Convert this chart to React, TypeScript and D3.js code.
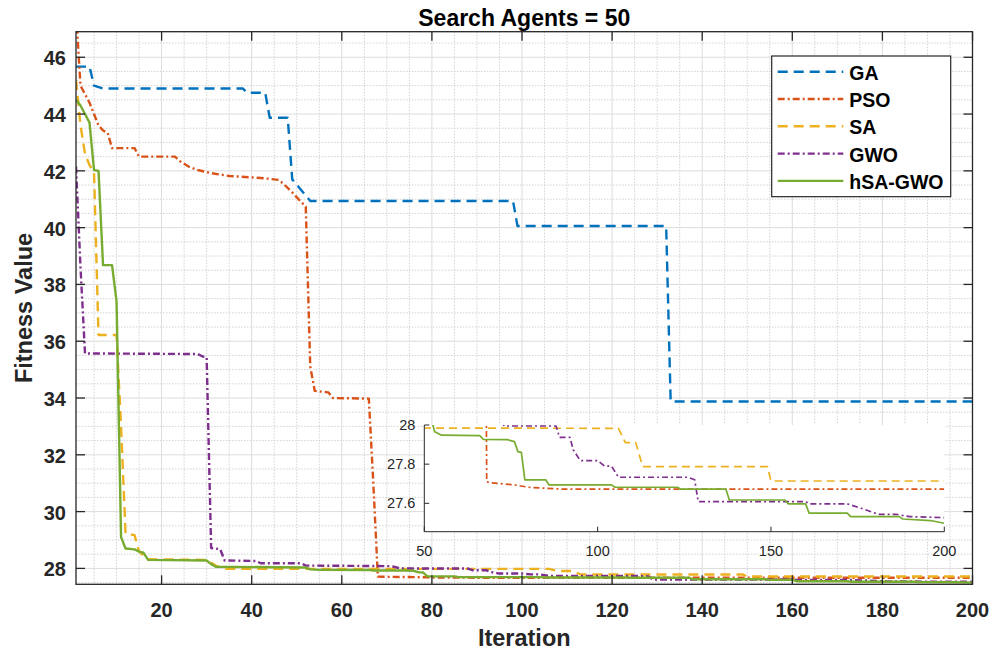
import React from 'react';
import * as d3 from 'd3';

// ---------------- data (iteration, fitness) vertices ----------------
const seriesNames = ['GA', 'PSO', 'SA', 'GWO', 'hSA-GWO'];

const gaCurve: [number, number][] = [
  [1, 45.67], [4, 45.67], [5, 45.0], [7, 44.9], [38, 44.9], [39, 44.75], [43, 44.75], [44, 43.87],
  [48, 43.87], [49, 41.7], [53, 40.94], [98, 40.94], [99, 40.06], [132, 40.06], [133, 33.88], [200, 33.88],
];

const psoCurve: [number, number][] = [
  [1, 47.6], [2, 45.0], [3, 44.7], [4, 44.4], [5, 44.0], [6, 43.6], [7, 43.42], [8, 43.35], [9, 42.8],
  [14, 42.8], [15, 42.5], [23, 42.5], [24, 42.35], [26, 42.15], [28, 42.03], [31, 41.92], [35, 41.82],
  [42, 41.75], [46, 41.68], [47, 41.55], [49, 41.24], [51, 40.9], [52, 40.74], [53, 35.1], [54, 34.25],
  [57, 34.2], [58, 34.0], [66, 33.98], [67, 31.0], [68, 27.71], [69, 27.705], [76, 27.694], [80, 27.682],
  [85, 27.677], [90, 27.672], [200, 27.672],
];

const saCurve: [number, number][] = [
  [1, 45.2], [2, 43.6], [3, 42.6], [4, 42.2], [5, 41.95], [6, 36.22], [10, 36.22], [11, 33.0], [12, 29.23],
  [14, 29.17], [15, 28.6], [16, 28.45], [17, 28.32], [30, 28.3], [31, 28.2], [32, 28.1], [34, 27.985],
  [106, 27.983], [108, 27.91], [111, 27.91], [113, 27.787], [149, 27.787], [150, 27.714], [200, 27.714],
];

const gwoCurve: [number, number][] = [
  [1, 42.15], [2, 38.6], [3, 35.57], [28, 35.55], [29, 35.47], [30, 35.43], [31, 28.72], [33, 28.68],
  [34, 28.28], [41, 28.26], [42, 28.18], [51, 28.18], [52, 28.1], [71, 28.08], [72, 28.04], [73, 27.995],
  [88, 27.995], [89, 27.937], [92, 27.937], [93, 27.872], [95, 27.818], [100, 27.818], [102, 27.79],
  [104, 27.79], [106, 27.733], [126, 27.733], [128, 27.72], [129, 27.609], [160, 27.609], [161, 27.597],
  [172, 27.597], [176, 27.575], [181, 27.544], [186, 27.544], [190, 27.532], [200, 27.527],
];

const hsaGwoCurve: [number, number][] = [
  [1, 44.5], [2, 44.3], [3, 44.0], [4, 43.7], [5, 42.03], [6, 42.0], [7, 38.68], [9, 38.68], [10, 37.4],
  [11, 29.1], [12, 28.7], [14, 28.67], [15, 28.59], [16, 28.55], [17, 28.3], [30, 28.28], [31, 28.15],
  [32, 28.06], [52, 28.03], [53, 27.966], [55, 27.948], [66, 27.946], [67, 27.927], [74, 27.925],
  [76, 27.915], [77, 27.864], [78, 27.86], [79, 27.72], [85, 27.72], [86, 27.694], [104, 27.694],
  [105, 27.682], [123, 27.682], [124, 27.672], [137, 27.672], [138, 27.617], [154, 27.617], [155, 27.597],
  [160, 27.597], [161, 27.55], [172, 27.55], [173, 27.532], [187, 27.532], [188, 27.52], [196, 27.512],
  [200, 27.498],
];

const seriesData = [gaCurve, psoCurve, saCurve, gwoCurve, hsaGwoCurve];

const iterationTicks = [20, 40, 60, 80, 100, 120, 140, 160, 180, 200];
const fitnessTicks = [28, 30, 32, 34, 36, 38, 40, 42, 44, 46];
const insetIterationTicks = [50, 100, 150, 200];
const insetFitnessTicks = [27.6, 27.8, 28];

const titleText = 'Search Agents = 50';
const xLabelText = 'Iteration';
const yLabelText = 'Fitness Value';

// ---------------- layout & styles ----------------
const W = 996;
const H = 652;
const M = { left: 76, right: 972.5, top: 31.7, bottom: 584.3 };
const I = { left: 424.3, right: 944.3, top: 425, bottom: 531.7 };
const FONT = '"Liberation Sans", Arial, Helvetica, sans-serif';
const AXIS = '#262626';

const seriesStyle: Record<string, { color: string; dash: string | null; insetDash: string | null }> = {
  GA: { color: '#0072BD', dash: '10,6', insetDash: '8,5' },
  PSO: { color: '#D95319', dash: '7,3,2,3', insetDash: '6,3,2,3' },
  SA: { color: '#EDB120', dash: '10,6', insetDash: '8,5' },
  GWO: { color: '#7E2F8E', dash: '7,3,2,3', insetDash: '6,3,2,3' },
  'hSA-GWO': { color: '#77AC30', dash: null, insetDash: null },
};

export default function App() {
  const x = d3.scaleLinear().domain([1, 200]).range([M.left, M.right]);
  const y = d3.scaleLinear().domain([27.44, 46.9]).range([M.bottom, M.top]);
  const xi = d3.scaleLinear().domain([50, 200]).range([I.left, I.right]);
  const yi = d3.scaleLinear().domain([27.455, 28]).range([I.bottom, I.top]);

  const line = d3.line<[number, number]>().x((d) => x(d[0])).y((d) => y(d[1]));
  const lineI = d3.line<[number, number]>().x((d) => xi(d[0])).y((d) => yi(d[1]));

  const minorX = d3.range(5, 200, 5).filter((v) => v % 20 !== 0);
  const minorY = d3.range(27.5, 46.9, 0.5).filter((v) => Math.abs(v % 2) > 1e-6);

  const tickLen = 9;

  return (
    <svg
      width={W}
      height={H}
      viewBox={`0 0 ${W} ${H}`}
      style={{ position: 'absolute', left: 0, top: 0, background: '#fff' }}
      fontFamily={FONT}
    >
      <defs>
        <clipPath id="mainClip">
          <rect x={M.left} y={M.top} width={M.right - M.left} height={M.bottom - M.top} />
        </clipPath>
        <clipPath id="insetClip">
          <rect x={I.left} y={I.top} width={I.right - I.left} height={I.bottom - I.top} />
        </clipPath>
      </defs>
      <rect x={0} y={0} width={W} height={H} fill="#fff" />
      <rect x={M.left} y={M.top} width={M.right - M.left} height={M.bottom - M.top} fill="#fff" />

      {/* minor grid */}
      <g stroke="#c8c8c8" strokeWidth={0.8} strokeDasharray="1.5,1.5">
        {minorX.map((v) => (
          <line key={'mx' + v} x1={x(v)} x2={x(v)} y1={M.top} y2={M.bottom} />
        ))}
        {minorY.map((v) => (
          <line key={'my' + v} x1={M.left} x2={M.right} y1={y(v)} y2={y(v)} />
        ))}
      </g>
      {/* major grid */}
      <g stroke="#dcdcdc" strokeWidth={1}>
        {iterationTicks.map((v) => (
          <line key={'gx' + v} x1={x(v)} x2={x(v)} y1={M.top} y2={M.bottom} />
        ))}
        {fitnessTicks.map((v) => (
          <line key={'gy' + v} x1={M.left} x2={M.right} y1={y(v)} y2={y(v)} />
        ))}
      </g>

      {/* main series */}
      <g clipPath="url(#mainClip)" fill="none">
        {seriesNames.map((name, k) => (
          <path
            key={name}
            d={line(seriesData[k]) || ''}
            stroke={seriesStyle[name].color}
            strokeWidth={2.4}
            strokeDasharray={seriesStyle[name].dash || undefined}
            strokeLinejoin="round"
          />
        ))}
      </g>

      {/* main box & ticks */}
      <g stroke={AXIS} strokeWidth={1.3} fill="none">
        <rect x={M.left} y={M.top} width={M.right - M.left} height={M.bottom - M.top} />
        {iterationTicks.map((v) => (
          <g key={'tx' + v}>
            <line x1={x(v)} x2={x(v)} y1={M.bottom} y2={M.bottom - tickLen} />
            <line x1={x(v)} x2={x(v)} y1={M.top} y2={M.top + tickLen} />
          </g>
        ))}
        {fitnessTicks.map((v) => (
          <g key={'ty' + v}>
            <line x1={M.left} x2={M.left + tickLen} y1={y(v)} y2={y(v)} />
            <line x1={M.right} x2={M.right - tickLen} y1={y(v)} y2={y(v)} />
          </g>
        ))}
      </g>

      {/* main tick labels */}
      <g fill={AXIS} fontWeight="bold" fontSize={20}>
        {iterationTicks.map((v) => (
          <text key={'lx' + v} x={x(v)} y={616.5} textAnchor="middle">
            {v}
          </text>
        ))}
        {fitnessTicks.map((v) => (
          <text key={'ly' + v} x={M.left - 10} y={y(v) + 8} textAnchor="end">
            {v}
          </text>
        ))}
      </g>

      {/* titles */}
      <text x={(M.left + M.right) / 2} y={26} textAnchor="middle" fontWeight="bold" fontSize={23} fill="#000">
        {titleText}
      </text>
      <text x={(M.left + M.right) / 2} y={646} textAnchor="middle" fontWeight="bold" fontSize={23.5} fill={AXIS}>
        {xLabelText}
      </text>
      <text
        transform={`translate(32, ${(M.top + M.bottom) / 2}) rotate(-90)`}
        textAnchor="middle"
        fontWeight="bold"
        fontSize={23.5}
        fill={AXIS}
      >
        {yLabelText}
      </text>

      {/* legend */}
      <g>
        <rect x={771.7} y={56} width={179} height={140.7} fill="#fff" stroke={AXIS} strokeWidth={1.2} />
        {seriesNames.map((name, k) => {
          const cy = 71.7 + k * 27.3;
          return (
            <g key={'lg' + name}>
              <line
                x1={777.7}
                x2={843.3}
                y1={cy}
                y2={cy}
                stroke={seriesStyle[name].color}
                strokeWidth={2.4}
                strokeDasharray={seriesStyle[name].dash || undefined}
              />
              <text x={849.3} y={cy + 8} fontWeight="bold" fontSize={19.5} fill="#000">
                {name}
              </text>
            </g>
          );
        })}
      </g>

      {/* inset */}
      <rect x={I.left} y={I.top} width={I.right - I.left} height={I.bottom - I.top} fill="#fff" />
      <g clipPath="url(#insetClip)" fill="none">
        {seriesNames.map((name, k) => (
          <path
            key={'in' + name}
            d={lineI(seriesData[k]) || ''}
            stroke={seriesStyle[name].color}
            strokeWidth={1.7}
            strokeDasharray={seriesStyle[name].insetDash || undefined}
            strokeLinejoin="round"
          />
        ))}
      </g>
      <g stroke={AXIS} strokeWidth={1} fill="none">
        <line x1={I.left} x2={I.left} y1={I.top} y2={I.bottom} />
        <line x1={I.left} x2={I.right} y1={I.bottom} y2={I.bottom} />
        {insetIterationTicks.map((v) => (
          <line key={'itx' + v} x1={xi(v)} x2={xi(v)} y1={I.bottom} y2={I.bottom - 5} />
        ))}
        {insetFitnessTicks.map((v) => (
          <line key={'ity' + v} x1={I.left} x2={I.left + 5} y1={yi(v)} y2={yi(v)} />
        ))}
      </g>
      <g fill={AXIS} fontSize={14.5}>
        {insetIterationTicks.map((v) => (
          <text key={'ilx' + v} x={xi(v)} y={555.5} textAnchor="middle">
            {v}
          </text>
        ))}
        {insetFitnessTicks.map((v) => (
          <text key={'ily' + v} x={I.left - 9} y={yi(v) + 5} textAnchor="end">
            {v}
          </text>
        ))}
      </g>
    </svg>
  );
}
